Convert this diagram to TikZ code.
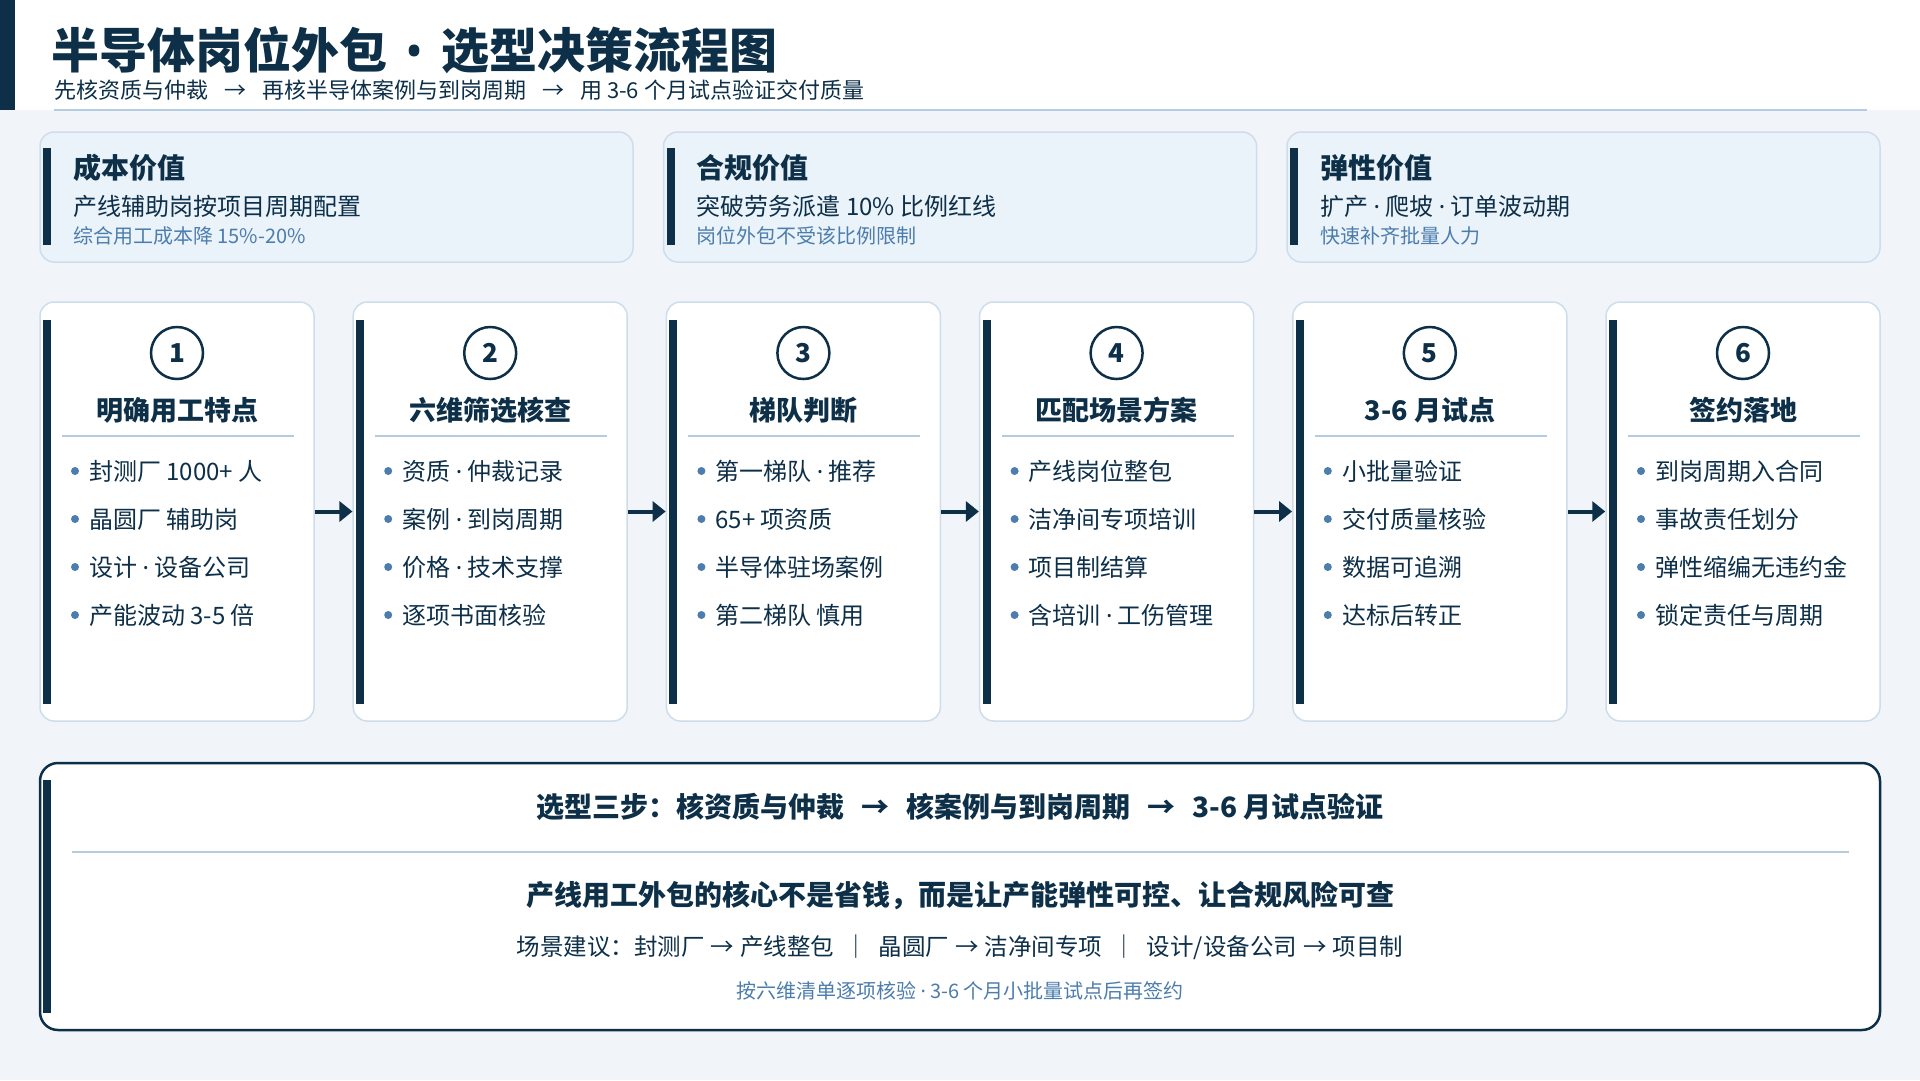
\documentclass[tikz,border=0pt]{standalone}
\usepackage{fontspec}
\setmainfont{Noto Sans CJK SC}
\newfontfamily\latinfont{Noto Sans}
\usetikzlibrary{positioning, arrows.meta}

\definecolor{navy}{HTML}{0D2F48}
\definecolor{pagebg}{HTML}{F1F5FA}
\definecolor{cardfill}{HTML}{EAF2FA}
\definecolor{cardline}{HTML}{CEDDEB}
\definecolor{ruleblue}{HTML}{B3CCE2}
\definecolor{steel}{HTML}{4C7DAC}

\newcommand{\fs}[1]{\fontsize{#1}{#1}\selectfont}
\newcommand{\mdot}{{\latinfont ·}}
\newcommand{\gap}[1]{\hspace{#1pt}→\hspace{#1pt}}

\begin{document}
\begin{tikzpicture}[x=1pt, y=-1pt,
  valuecard/.style={draw=cardline, line width=1.5pt, fill=cardfill, rounded corners=14pt,
    minimum width=593pt, minimum height=130pt, inner sep=0pt},
  stepcard/.style={draw=cardline, line width=1.5pt, fill=white, rounded corners=14pt,
    minimum width=274pt, minimum height=419pt, inner sep=0pt},
  numring/.style={draw=navy, line width=2.5pt, circle, minimum size=52pt, inner sep=0pt,
    text=navy, font=\fs{26}\bfseries},
  plain/.style={inner sep=0pt, text=navy},
  bulletitem/.style={plain, anchor=west, font=\fs{24}},
  flow/.style={-{Triangle[length=13pt, width=20pt]}, line width=4pt, navy}]

        \useasboundingbox (0,0) rectangle (1920,1080);
        \fill[pagebg] (0,0) rectangle (1920,1080);
        \fill[white] (0,0) rectangle (1920,110);
        \fill[navy] (0,0) rectangle (15,110);
        \draw[ruleblue, line width=2pt] (54,110) -- (1867,110);

        \node[plain, anchor=base west, font=\fs{48}\bfseries] (title) at (51,68) {半导体岗位外包\hspace{18pt}{\latinfont •}\hspace{18pt}选型决策流程图};
        \node[plain, anchor=base west, font=\fs{22}] (subtitle) at (54,98) {先核资质与仲裁\gap{16}再核半导体案例与到岗周期\gap{16}用 3-6 个月试点验证交付质量};

        \foreach \i/\head/\main/\note in {1/成本价值/产线辅助岗按项目周期配置/综合用工成本降 15\%-20\%,
            2/合规价值/突破劳务派遣 10\% 比例红线/岗位外包不受该比例限制,
            3/弹性价值/扩产 \mdot{} 爬坡 \mdot{} 订单波动期/快速补齐批量人力}
        {
            \pgfmathsetmacro{\vx}{623.5*(\i-1)}
            \node[valuecard] (v\i) at (336.5+\vx,197) {};
            \fill[navy] (43+\vx,148) rectangle (51+\vx,245);
            \node[plain, anchor=west, font=\fs{28}\bfseries] (v\i-head) at (73+\vx,168) {\head};
            \node[plain, anchor=west, font=\fs{24}] (v\i-main) at (73+\vx,206) {\main};
            \node[plain, anchor=west, font=\fs{20}, text=steel] (v\i-note) at (73+\vx,236) {\note};
        }

        \foreach \i/\name/\a/\b/\c/\d in {1/明确用工特点/封测厂 1000+ 人/晶圆厂 辅助岗/设计 \mdot{} 设备公司/产能波动 3-5 倍,
            2/六维筛选核查/资质 \mdot{} 仲裁记录/案例 \mdot{} 到岗周期/价格 \mdot{} 技术支撑/逐项书面核验,
            3/梯队判断/第一梯队 \mdot{} 推荐/65+ 项资质/半导体驻场案例/第二梯队 慎用,
            4/匹配场景方案/产线岗位整包/洁净间专项培训/项目制结算/含培训 \mdot{} 工伤管理,
            5/3-6 月试点/小批量验证/交付质量核验/数据可追溯/达标后转正,
            6/签约落地/到岗周期入合同/事故责任划分/弹性缩编无违约金/锁定责任与周期}
        {
            \pgfmathsetmacro{\cx}{177+313.2*(\i-1)}
            \node[stepcard] (s\i) at (\cx,511.5) {};
            \fill[navy] (\cx-134,320) rectangle (\cx-126,704);
            \node[numring] (n\i) at (\cx,353) {\i};
            \node[plain, font=\fs{27}\bfseries] (t\i) at (\cx,410) {\name};
            \draw[ruleblue, line width=2pt] (\cx-115,436) -- (\cx+117,436);
            \foreach \txt [count=\k] in {\a,\b,\c,\d}
            {
                \fill[steel] (\cx-102,423+48*\k) circle (4);
                \node[bulletitem] (s\i-\k) at (\cx-88,423+48*\k) {\txt};
            }
        }

        \foreach \i [evaluate=\i as \j using int(\i+1)] in {1,...,5}
            \draw[flow] (s\i.east) -- (s\j.west);

        \node[draw=navy, line width=2.5pt, fill=white, rounded corners=18pt,
            minimum width=1840pt, minimum height=267pt] (panel) at (960,896.5) {};
        \fill[navy] (43,780) rectangle (51,1013);
        \node[plain, font=\fs{28}\bfseries] (steps) at (960,807) {选型三步：核资质与仲裁\gap{17}核案例与到岗周期\gap{17}3-6 月试点验证};
        \draw[ruleblue, line width=2pt] (72,852) -- (1849,852);
        \node[plain, font=\fs{28}\bfseries] (core) at (960,895) {产线用工外包的核心不是省钱，而是让产能弹性可控、让合规风险可查};
        \node[plain, font=\fs{23.5}] (scene) at (960,947) {场景建议：封测厂\gap{6}产线整包 \ ｜ \ 晶圆厂\gap{6}洁净间专项 \ ｜ \ 设计/设备公司\gap{6}项目制};
        \node[plain, font=\fs{20}, text=steel] (check) at (960,991) {按六维清单逐项核验 \mdot{} 3-6 个月小批量试点后再签约};
\end{tikzpicture}
\end{document}
